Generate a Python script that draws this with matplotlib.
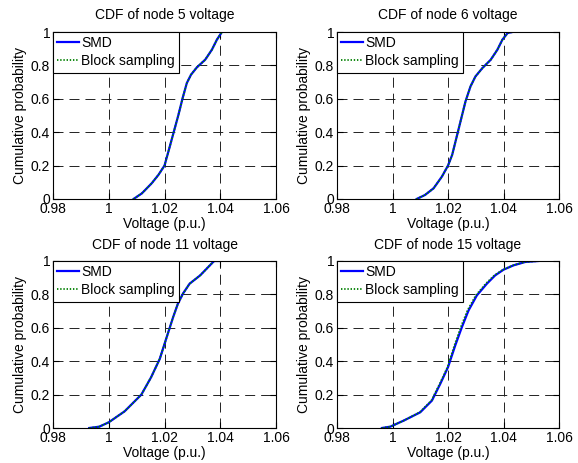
import matplotlib
matplotlib.use("Agg")
import matplotlib.pyplot as plt
from matplotlib.ticker import FixedLocator, FuncFormatter

plt.rcParams['font.family'] = ['Liberation Sans', 'DejaVu Sans']
plt.rcParams['font.size'] = 10
plt.rcParams['lines.scale_dashes'] = False

titles = ["CDF of node 5 voltage", "CDF of node 6 voltage",
          "CDF of node 11 voltage", "CDF of node 15 voltage"]

# node 5
n5_v = [1.0089, 1.0119, 1.0154, 1.0178, 1.0200, 1.0214, 1.0232, 1.0250, 1.0265,
        1.0280, 1.0295, 1.0316, 1.0346, 1.0370, 1.0388, 1.0406]
n5_p = [0.0, 0.034, 0.094, 0.144, 0.200, 0.284, 0.394, 0.504, 0.604,
        0.694, 0.744, 0.788, 0.834, 0.894, 0.954, 1.0]
# node 6
n6_v = [1.0087, 1.0117, 1.0148, 1.0178, 1.0200, 1.0215, 1.0233, 1.0248, 1.0263,
        1.0281, 1.0299, 1.0324, 1.0354, 1.0378, 1.0396, 1.0415, 1.0432]
n6_p = [0.0, 0.024, 0.064, 0.134, 0.200, 0.264, 0.384, 0.484, 0.584,
        0.674, 0.734, 0.784, 0.834, 0.894, 0.954, 0.994, 1.0]
# node 11
n11_v = [0.9930, 0.9966, 1.0000, 1.0057, 1.0117, 1.0152, 1.0183, 1.0206, 1.0231,
         1.0248, 1.0266, 1.0290, 1.0328, 1.0357, 1.0378, 1.0395]
n11_p = [0.0, 0.008, 0.034, 0.100, 0.200, 0.304, 0.414, 0.534, 0.664,
         0.744, 0.804, 0.864, 0.914, 0.964, 1.0, 1.0]
# node 15
n15_v = [0.9962, 0.9992, 1.0040, 1.0100, 1.0142, 1.0172, 1.0200, 1.0226, 1.0250,
         1.0274, 1.0304, 1.0340, 1.0370, 1.0400, 1.0436, 1.0478, 1.0526]
n15_p = [0.0, 0.008, 0.044, 0.094, 0.164, 0.264, 0.364, 0.494, 0.604,
         0.704, 0.794, 0.864, 0.914, 0.948, 0.974, 0.994, 1.0]

# block sampling (nearly identical)
b5_v = n5_v
b6_v = n6_v
b11_v = n11_v
b15_v = [0.9962, 0.9992, 1.0040, 1.0098, 1.0140, 1.0170, 1.0198, 1.0223, 1.0246,
         1.0270, 1.0300, 1.0336, 1.0367, 1.0398, 1.0434, 1.0476, 1.0526]

smd = [(n5_v, n5_p), (n6_v, n6_p), (n11_v, n11_p), (n15_v, n15_p)]
blk = [(b5_v, n5_p), (b6_v, n6_p), (b11_v, n11_p), (b15_v, n15_p)]

xticks = [0.98, 1.0, 1.02, 1.04, 1.06]
yticks = [0, 0.2, 0.4, 0.6, 0.8, 1.0]

W, H = 578, 463
fig = plt.figure(figsize=(W / 100, H / 100), dpi=100)
boxes = [(53, 32, 276, 199), (337, 32, 559, 199),
         (53, 261, 276, 428), (337, 261, 559, 428)]

fmt = FuncFormatter(lambda v, p: ('%g' % round(v, 4)))

for i, (l, t, r, b) in enumerate(boxes):
    ax = fig.add_axes([l / W, 1 - b / H, (r - l) / W, (b - t) / H])
    ax.plot(smd[i][0], smd[i][1], color=(0, 0, 1), lw=1.6, label='SMD')
    ax.plot(blk[i][0], blk[i][1], color=(0, 0.5, 0), lw=1.3, linestyle=(0, (1.0, 1.3)),
            label='Block sampling')
    ax.set_xlim(0.98, 1.06)
    ax.set_ylim(0, 1)
    ax.xaxis.set_major_locator(FixedLocator(xticks))
    ax.yaxis.set_major_locator(FixedLocator(yticks))
    ax.xaxis.set_major_formatter(fmt)
    ax.yaxis.set_major_formatter(fmt)
    ax.tick_params(direction='in', length=4, width=0.8, top=True, right=True,
                   labelsize=10, pad=2, colors='black')
    ax.grid(True, color='#222222', linestyle=(0, (7.2, 4.3)), linewidth=0.7)
    for s in ax.spines.values():
        s.set_linewidth(0.8)
    ax.set_title(titles[i], fontsize=10, pad=9)
    ax.set_xlabel('Voltage (p.u.)', fontsize=10, labelpad=1)
    ax.set_ylabel('Cumulative probability', fontsize=10, labelpad=3)
    leg = ax.legend(loc='upper left', bbox_to_anchor=(0, 1), borderaxespad=0,
                    fontsize=10, frameon=True, fancybox=False, handlelength=1.6,
                    handletextpad=0.15, borderpad=0.3, labelspacing=0.3)
    leg.get_frame().set_edgecolor('black')
    leg.get_frame().set_linewidth(0.8)
    leg.get_frame().set_alpha(1)

fig.savefig('out.png', dpi=100)
